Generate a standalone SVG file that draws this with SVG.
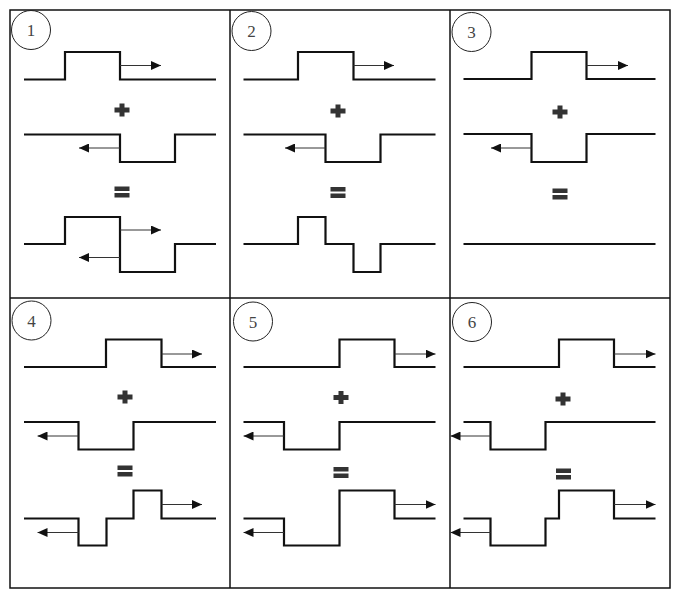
<svg xmlns="http://www.w3.org/2000/svg" xmlns:xlink="http://www.w3.org/1999/xlink" width="684" height="602" viewBox="0 0 684 602">
<style>
.grid{fill:none;stroke:#111;stroke-width:1.5}
.wave{fill:none;stroke:#111;stroke-width:2.2;stroke-linejoin:miter;stroke-linecap:butt}
.arr{fill:none;stroke:#333;stroke-width:1;marker-end:url(#ah)}
.num{fill:none;stroke:#222;stroke-width:1}
.lbl{font-family:"Liberation Serif",serif;font-size:17px;fill:#444;text-anchor:middle}
.op{fill:#333}
</style>
<defs>
<marker id="ah" markerUnits="userSpaceOnUse" markerWidth="10" markerHeight="9" refX="10" refY="4.5" orient="auto">
<path d="M0,0 L10,4.5 L0,9 Z" fill="#111"/>
</marker>
<g id="plus" class="op"><rect x="-7.5" y="-2.5" width="15" height="5"/><rect x="-2.5" y="-6.5" width="5" height="13"/></g>
<g id="eq" class="op"><rect x="-7.5" y="-5.5" width="15" height="4.5"/><rect x="-7.5" y="1" width="15" height="4.5"/></g>
</defs>
<rect width="684" height="602" fill="#fff"/>
<g id="grid">
<rect class="grid" x="10" y="10" width="660" height="578"/>
<line class="grid" x1="230" y1="10" x2="230" y2="588"/>
<line class="grid" x1="450" y1="10" x2="450" y2="588"/>
<line class="grid" x1="10" y1="298" x2="670" y2="298"/>
</g>
<g id="panel1">
<circle class="num" cx="31" cy="30" r="19.5"/><text class="lbl" x="31" y="36">1</text>
<path class="wave" d="M24,79.5 H65 V52 H120 V79.5 H216"/>
<use xlink:href="#plus" x="122" y="110"/>
<path class="wave" d="M24,134.5 H120 V162 H175 V134.5 H216"/>
<use xlink:href="#eq" x="122" y="192"/>
<path class="wave" d="M24,244 H65 V217 H120 V272 H175 V244 H216"/>
</g>
<g id="panel2">
<circle class="num" cx="251.5" cy="31" r="19.5"/><text class="lbl" x="251.5" y="37">2</text>
<path class="wave" d="M243.5,79.5 H298 V52 H353.5 V79.5 H435.5"/>
<use xlink:href="#plus" x="338" y="111"/>
<path class="wave" d="M243.5,134.5 H325.5 V162 H380.5 V134.5 H435.5"/>
<use xlink:href="#eq" x="338" y="192.5"/>
<path class="wave" d="M243.5,244 H298 V217 H325.5 V244 H353.5 V272 H380.5 V244 H435.5"/>
</g>
<g id="panel3">
<circle class="num" cx="471.5" cy="32" r="19.5"/><text class="lbl" x="471.5" y="38">3</text>
<path class="wave" d="M463.5,79 H531.5 V52 H586.5 V79 H655.5"/>
<use xlink:href="#plus" x="560" y="112"/>
<path class="wave" d="M463.5,134 H531.5 V162 H586.5 V134 H655.5"/>
<use xlink:href="#eq" x="560" y="194"/>
<path class="wave" d="M463.5,244 H655.5"/>
</g>
<g id="panel4">
<circle class="num" cx="31.5" cy="320.5" r="19.5"/><text class="lbl" x="31.5" y="326.5">4</text>
<path class="wave" d="M24,367 H106 V339.5 H161.5 V367 H216"/>
<use xlink:href="#plus" x="125" y="397"/>
<path class="wave" d="M24,422 H78.5 V449.5 H133.5 V422 H216"/>
<use xlink:href="#eq" x="125" y="471"/>
<path class="wave" d="M24,518.5 H78.5 V545.5 H106.5 V518.5 H133.5 V490.5 H161.5 V518.5 H216"/>
</g>
<g id="panel5">
<circle class="num" cx="253" cy="321.5" r="19.5"/><text class="lbl" x="253" y="327.5">5</text>
<path class="wave" d="M243.5,367 H339.5 V339.5 H394.5 V367 H435.5"/>
<use xlink:href="#plus" x="341" y="397.5"/>
<path class="wave" d="M243.5,422 H284 V449.5 H339.5 V422 H435.5"/>
<use xlink:href="#eq" x="341" y="472.5"/>
<path class="wave" d="M243.5,518.5 H284 V545.5 H339.5 V490.5 H394.5 V518.5 H435.5"/>
</g>
<g id="panel6">
<circle class="num" cx="472" cy="322" r="19.5"/><text class="lbl" x="472" y="328">6</text>
<path class="wave" d="M463.5,367 H559 V339.5 H614 V367 H655.5"/>
<use xlink:href="#plus" x="563" y="399"/>
<path class="wave" d="M463.5,422 H490.5 V449.5 H545.5 V422 H655.5"/>
<use xlink:href="#eq" x="563.5" y="474"/>
<path class="wave" d="M463.5,518.5 H490.5 V545.5 H545.5 V518.5 H559 V490.5 H614 V518.5 H655.5"/>
</g>
<g id="connectors">
<path class="arr" d="M120,65.5 H161"/>
<path class="arr" d="M120,148 H79"/>
<path class="arr" d="M120,230 H161"/>
<path class="arr" d="M120,257.5 H79"/>
<path class="arr" d="M353.5,65.5 H394"/>
<path class="arr" d="M325.5,148 H285"/>
<path class="arr" d="M586.5,65.5 H628"/>
<path class="arr" d="M531.5,148 H491"/>
<path class="arr" d="M161.5,354 H202"/>
<path class="arr" d="M78.5,436 H37.5"/>
<path class="arr" d="M161.5,504.5 H202"/>
<path class="arr" d="M78.5,532.5 H37.5"/>
<path class="arr" d="M394.5,354 H435.5"/>
<path class="arr" d="M284,436 H243.5"/>
<path class="arr" d="M394.5,504.5 H435.5"/>
<path class="arr" d="M284,532.5 H243.5"/>
<path class="arr" d="M614,354 H655.5"/>
<path class="arr" d="M490.5,436 H450.5"/>
<path class="arr" d="M614,504.5 H655.5"/>
<path class="arr" d="M490.5,532.5 H450.5"/>
</g>
</svg>
